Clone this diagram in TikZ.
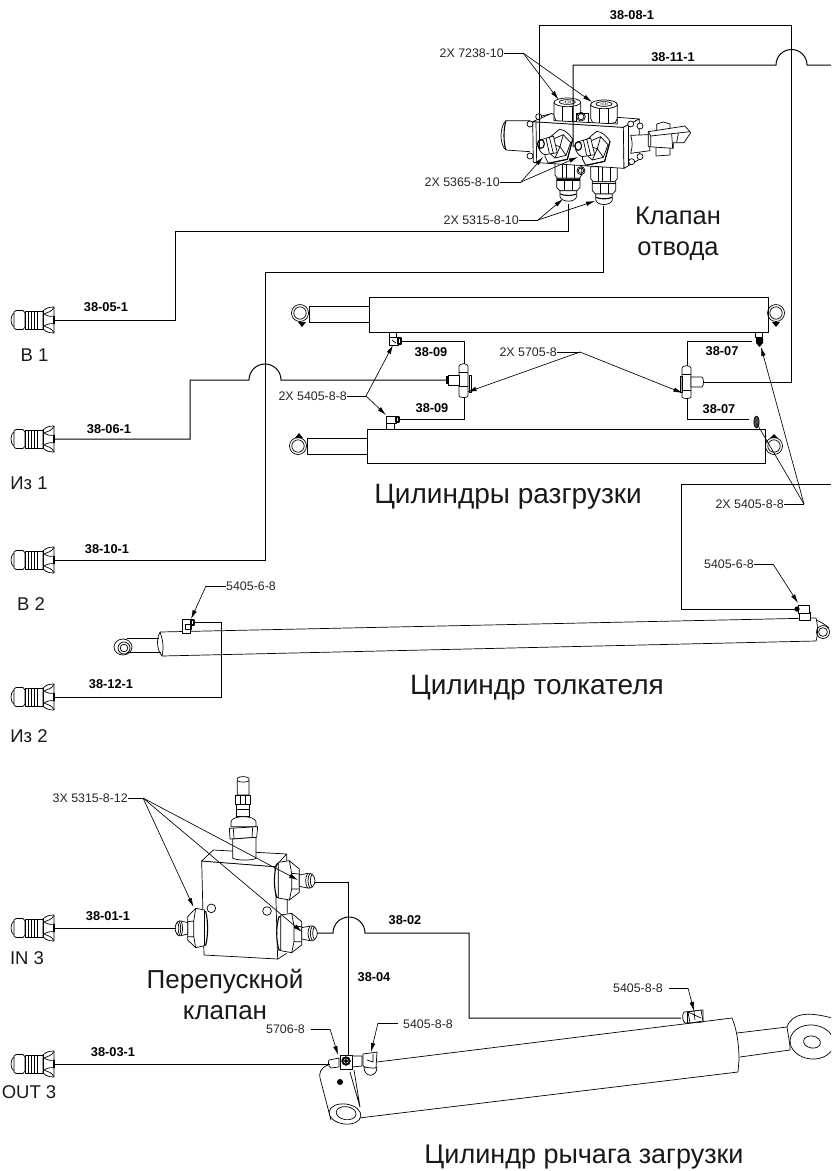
\documentclass[tikz,border=0pt]{standalone}
\usepackage{fontspec}
\setmainfont{Liberation Sans}
\usetikzlibrary{arrows.meta}
\tikzset{
  pipe/.style={line width=1pt,line join=miter},
  part/.style={line width=0.7pt,line join=round},
  thick part/.style={line width=1.1pt,line join=round},
  leader/.style={line width=0.65pt},
  tip/.style={line width=0.65pt,-{Latex[length=9pt,width=4.5pt]}},
  hoselabel/.style={font=\fontsize{12.8}{14}\selectfont\bfseries,inner sep=0pt},
  partlabel/.style={font=\fontsize{12.4}{14}\selectfont,inner sep=0pt,text=black!85},
  portlabel/.style={font=\fontsize{18.5}{20}\selectfont,inner sep=0pt,text=black!90},
  bigtext/.style={inner sep=0pt,align=center,text=black!90},
  zoomA/.style={shift={(480,0)},x=0.33333pt,y=-0.33333pt},
  zoomB/.style={shift={(130,760)},x=0.33333pt,y=-0.33333pt},
}
% quick coupler whose hose end is at #1
\newcommand{\coupler}[1]{%
 \begin{scope}[shift={(#1)}]
  \draw[part] (-40,-7) .. controls (-44,-5) and (-44,5) .. (-40,7);
  \draw[part] (-40,-8) -- (-38,-9.5) -- (-31,-9.5) -- (-29,-7) -- (-29,7) -- (-31,9.5) -- (-38,9.5) -- (-40,8) -- cycle;
  \draw[part] (-29,-9) rectangle (-11,9);
  \draw[part] (-26,-9) -- (-26,9) (-23,-9) -- (-23,9) (-20,-9) -- (-20,9) (-17,-9) -- (-17,9);
  \draw[part] (-11,-9) .. controls (-8,-12) and (-5,-13) .. (0,-13) -- (0,13) .. controls (-5,13) and (-8,12) .. (-11,9) -- cycle;
  \draw[part] (0,-13) .. controls (-2,-8) and (-6,-8) .. (-10,-6) .. controls (-7,-4) and (-3,-3) .. (0,-4);
  \draw[part] (0,13) .. controls (-2,8) and (-6,8) .. (-10,6) .. controls (-7,4) and (-3,3) .. (0,4);
  \draw[thick part] (0,-4) -- (0,4);
 \end{scope}}
% angled fitting on the valve front, offset #1,#2 from the left fitting (zoom units)
\newcommand{\angfit}[2]{%
 \begin{scope}[shift={(#1,#2)}]
  \filldraw[part,fill=white] (195,470) -- (200,420) -- (238,388) .. controls (255,388) and (270,405) .. (278,418) -- (262,478) -- (205,490) -- cycle;
  \filldraw[part,fill=white] (207,458) -- (213,420) -- (250,404) -- (272,428) -- (258,466) -- (225,474) -- cycle;
  \draw[part] (250,404) -- (240,440) -- (258,466) (240,440) -- (213,432) (240,440) -- (225,474);
  \draw[thick part] (278,418) -- (262,478) -- (205,490);
  \filldraw[part,fill=white] (172,432) .. controls (172,424) and (178,420) .. (184,419) -- (220,408) -- (232,458) -- (194,464) .. controls (184,462) and (174,446) .. (172,432) -- cycle;
  \draw[part] (198,414) -- (208,460) (208,411) -- (220,460);
  \draw[thick part] (183,432) ellipse[x radius=10,y radius=13];
 \end{scope}}
% downward fitting on valve (zoom units): centre x #1, top #2, w/ body
\newcommand{\downfit}[2]{%
 \begin{scope}[shift={(#1,#2)}]
  \filldraw[part,fill=white] (-40,0) -- (-40,35) -- (-33,45) -- (33,45) -- (40,35) -- (40,0) -- cycle;
  \draw[part] (-18,0) -- (-18,45) (18,0) -- (18,45) (-5,0) -- (-5,45);
  \filldraw[part,fill=white] (-35,45) -- (-35,72) -- (-26,82) -- (26,82) -- (35,72) -- (35,45) -- cycle;
  \draw[thick part] (-35,50) -- (35,50);
  \draw[part] (-12,50) -- (-12,82) (12,50) -- (12,82);
  \filldraw[part,fill=white] (-25,82) -- (-25,100) .. controls (-20,118) and (20,118) .. (25,100) -- (25,82) -- cycle;
  \draw[thick part] (-24,92) .. controls (-12,98) and (12,98) .. (24,92);
 \end{scope}}
% hex top fitting on valve (zoom units)
\newcommand{\topfit}[2]{%
 \begin{scope}[shift={(#1,#2)}]
  \filldraw[part,fill=white] (-40,0) -- (-40,42) -- (-34,55) -- (-14,58) -- (14,58) -- (34,55) -- (40,42) -- (40,0) -- cycle;
  \draw[part] (-14,5) -- (-14,58) (14,5) -- (14,58);
  \filldraw[part,fill=white] (0,0) ellipse[x radius=40,y radius=13];
  \draw[part] (0,-1) ellipse[x radius=24,y radius=7];
  \draw[part,densely dotted] (0,-1) ellipse[x radius=10,y radius=3];
 \end{scope}}
% side fitting on the bypass block, nose pointing right (zoom units) at #1,#2
\newcommand{\sidefit}[3]{%
 \begin{scope}[shift={(#1,#2)},xscale=#3]
  \filldraw[thick part,fill=white] (-113,-50) .. controls (-122,-20) and (-122,20) .. (-113,50) -- (-106,50) -- (-106,-50) -- cycle;
  \filldraw[part,fill=white] (-108,-55) -- (-75,-60) -- (-45,-35) -- (-45,35) -- (-75,58) -- (-108,52) -- cycle;
  \draw[part] (-75,-60) -- (-68,-22) -- (-45,-20) (-68,-22) -- (-68,25) -- (-75,58) (-68,25) -- (-45,25);
  \filldraw[part,fill=white] (-45,-17) -- (-20,-22) .. controls (-8,-26) and (2,-12) .. (2,0) .. controls (2,12) and (-8,26) .. (-20,22) -- (-45,17) -- cycle;
  \draw[part] (-20,-22) .. controls (-28,-10) and (-28,10) .. (-20,22);
  \draw[part] (-13,-22) .. controls (-21,-10) and (-21,10) .. (-13,22);
  \draw[part] (-6,-20) .. controls (-14,-10) and (-14,10) .. (-6,20);
 \end{scope}}
\begin{document}
\begin{tikzpicture}[x=1pt,y=-1pt]
\useasboundingbox (0,0) rectangle (831,1171);
\clip (0,0) rectangle (831,1171);

%=== ports (hose ends of the couplers)
\coordinate (b1) at (54,320);
\coordinate (iz1) at (54,439);
\coordinate (b2) at (54,560);
\coordinate (iz2) at (54,697);
\coordinate (in3) at (54,928);
\coordinate (out3) at (54,1064);
\foreach \c in {b1,iz1,b2,iz2,in3,out3} {\coupler{\c}}

%=== valve
\begin{scope}[zoomA]
  % left solenoid
  \draw[part] (150,362) -- (78,362) .. controls (58,380) and (58,435) .. (78,450) -- (150,455);
  \draw[thick part] (78,362) .. controls (70,385) and (70,430) .. (78,450);
  % top fittings
  \topfit{262}{307}
  \topfit{372}{313}
  \filldraw[part,fill=white] (290,340) -- (290,372) -- (325,372) -- (325,340) -- cycle;
  \draw[part] (303,350) circle[radius=13];
  \draw[part] (303,350) circle[radius=9];
  % bottom fittings
  \downfit{265}{490}
  \downfit{372}{500}
  \draw[part] (303,512) circle[radius=12];
  \draw[part] (303,512) circle[radius=8];
  % block
  \filldraw[part,fill=white] (158,365) -- (430,382) -- (432,505) -- (160,487) -- cycle;
  \filldraw[part,fill=white] (158,365) -- (215,340) -- (222,345) -- (222,362) -- (412,372) -- (412,352) -- (478,357) -- (430,382) -- cycle;
  \filldraw[part,fill=white] (430,382) -- (478,357) -- (478,478) -- (432,505) -- cycle;
  \draw[part] (168,366) -- (170,488) (176,350) -- (210,342);
  \draw[part] (445,375) -- (445,497);
  % bolts
  \foreach \p/\r in {150/372,150/468,176/350,480/378,480/470,455/485,452/372} {\filldraw[part,fill=white] (\p,\r) circle[radius=9];}
  % lever stem
  \filldraw[part,fill=white] (452,406) -- (505,404) -- (510,452) -- (452,460) .. controls (458,440) and (458,425) .. (452,406) -- cycle;
  \filldraw[part,fill=white] (528,440) -- (528,468) -- (570,465) -- (570,440) -- cycle;
  \filldraw[part,fill=white] (530,372) -- (530,392) -- (570,392) -- (570,372) -- (550,366) -- cycle;
  \filldraw[part,fill=white] (505,395) -- (615,378) -- (632,398) -- (612,428) -- (580,428) -- (580,445) -- (505,440) -- cycle;
  \draw[part] (505,395) -- (512,408) -- (630,395) (512,408) -- (512,440) (575,402) -- (578,445) (595,400) -- (590,428);
  % front fittings
  \angfit{0}{0}
  \angfit{112}{6}
\end{scope}

%=== named ports on the valve
\coordinate (vA) at (539,150);
\coordinate (vB) at (573,147);
\coordinate (vC) at (568,204);
\coordinate (vD) at (603.5,206);

%=== lift cylinders
\filldraw[part,fill=white] (369,297) rectangle (768,332);
\draw[part] (309,306) rectangle (369,322);
\draw[part] (300,313) circle[radius=8.5] (300,313) circle[radius=6.2];
\draw[part] (776,313) circle[radius=8.5] (776,313) circle[radius=6.2];
\fill (298,322) -- (306,322) -- (302,327) -- cycle;
\fill (772,322) -- (780,322) -- (776,327) -- cycle;
\filldraw[part,fill=white] (367,429) rectangle (765,463);
\draw[part] (307,438) rectangle (367,454);
\draw[part] (298,446) circle[radius=8.5] (298,446) circle[radius=6.2];
\draw[part] (774,446) circle[radius=8.5] (774,446) circle[radius=6.2];
\fill (295,438) -- (303,438) -- (299,433) -- cycle;
\fill (770,438) -- (778,438) -- (774,434) -- cycle;
% fittings on the lift cylinders
\draw[part] (389,332) rectangle (396,337);
\filldraw[part,fill=white] (389,337) rectangle (398,345);
\draw[thick part] (398,338) rectangle (401,344);
\draw[part] (392,340) -- (396,343);
\draw[part] (386,417) rectangle (394,429);
\filldraw[part,fill=white] (386,416) rectangle (396,423);
\draw[thick part] (396,417) rectangle (399,422);
\draw[part] (755,332) rectangle (762,337);
\fill (756,338) -- (763,338) -- (763,343) -- (759.5,347) -- (756,343) -- cycle;
\filldraw[part,fill=black!70] (756.5,422) ellipse[x radius=2.6pt,y radius=6pt];
% T fittings
\filldraw[part,fill=white] (459,366) .. controls (459,363) and (468,363) .. (468,366) -- (468,396) .. controls (468,398) and (459,398) .. (459,396) -- cycle;
\draw[part] (459,372) -- (468,372) (459,386) -- (468,386) (469,375) rectangle (471,392);
\filldraw[part,fill=white] (448,375) -- (459,375) -- (459,385) -- (448,385) -- cycle;
\draw[thick part] (447,376) -- (447,384);
\filldraw[part,fill=white] (682,368) .. controls (682,365) and (691,365) .. (691,368) -- (691,397) .. controls (691,399) and (682,399) .. (682,397) -- cycle;
\draw[part] (682,374) -- (691,374) (682,390) -- (691,390) (680,376) rectangle (682,392);
\filldraw[part,fill=white] (691,377) -- (702,377) .. controls (704,379) and (704,385) .. (702,387) -- (691,387) -- cycle;
\coordinate (t1L) at (447,380);
\coordinate (t1T) at (464,364);
\coordinate (t1B) at (464,397);
\coordinate (t2R) at (703,382);
\coordinate (t2T) at (687,366);
\coordinate (t2B) at (687,398);
\coordinate (f1) at (401,341);
\coordinate (f2) at (399,419);
\coordinate (f3) at (752,341);
\coordinate (f4) at (749,419);

%=== pusher cylinder
\draw[part] (127,638) -- (159,638) (127,652) -- (161,652);
\draw[part] (123,647) ellipse[x radius=9pt,y radius=8pt];
\draw[part] (124,648) circle[radius=6] (124,648) circle[radius=3.8];
\draw[part] (160,632) .. controls (156,640) and (157,650) .. (162,656) .. controls (164,648) and (163,640) .. (160,632);
\draw[part] (160,632) -- (816,618) .. controls (818,625) and (818,635) .. (816,641) -- (162,656);
\draw[part] (823,632) circle[radius=6.5] (823,632) circle[radius=4.4];
\draw[part] (816,620) .. controls (821,622) and (826,625) .. (829,628);
\filldraw[part,fill=white] (182,619) rectangle (190,633);
\draw[part] (185,624) rectangle (191,629);
\draw[thick part] (191,620) rectangle (194,625);
\filldraw[part,fill=white] (799,612) rectangle (810,620);
\filldraw[part,fill=white] (798,605) rectangle (809,613);
\fill (797,609) circle[radius=2.6];
\coordinate (p1) at (194,622);
\coordinate (p2) at (797,609);

%=== bypass block
\begin{scope}[zoomB]
  % top cartridge
  \filldraw[part,fill=white] (322,55) -- (322,105) -- (357,105) -- (357,55) .. controls (350,48) and (328,48) .. (322,55) -- cycle;
  \draw[part] (322,62) .. controls (330,68) and (350,68) .. (357,62);
  \filldraw[part,fill=white] (317,107) -- (360,107) -- (360,133) -- (317,133) -- cycle;
  \draw[part] (330,107) -- (330,133) (347,107) -- (347,133);
  \filldraw[part,fill=white] (320,133) -- (358,133) -- (358,170) -- (320,170) -- cycle;
  \draw[thick part] (320,148) -- (358,148);
  \filldraw[part,fill=white] (303,185) .. controls (305,165) and (375,165) .. (378,185) -- (378,200) -- (303,200) -- cycle;
  \filldraw[part,fill=white] (298,205) -- (383,200) -- (380,232) -- (300,237) -- cycle;
  \draw[part] (310,205) -- (312,235) (368,202) -- (366,233);
  % block
  \filldraw[part,fill=white] (215,303) -- (435,320) -- (443,597) -- (222,585) -- cycle;
  \filldraw[part,fill=white] (215,303) -- (250,270) -- (470,282) -- (435,320) -- cycle;
  \draw[part] (470,282) -- (472,460) (443,597) -- (470,580);
  \filldraw[part,fill=white] (308,237) -- (308,295) .. controls (325,302) and (365,302) .. (378,295) -- (378,232) -- cycle;
  \draw[part] (244,445) circle[radius=13];
  \draw[part] (411,453) circle[radius=13];
  % fittings
  \sidefit{553}{362}{1}
  \sidefit{560}{520}{1}
  \sidefit{137}{505}{-0.8}
\end{scope}

%=== loader cylinder
\draw[part] (732,1018) .. controls (737,1030) and (739,1045) .. (739,1060) -- (738,1072) -- (359,1118);
\draw[part] (377,1062) -- (732,1018);
\draw[part] (737,1033) -- (787,1027) (740,1057) -- (790,1050);
\draw[part] (787,1027) .. controls (792,1012) and (810,1012) .. (832,1018);
\draw[part] (787,1027) .. controls (788,1035) and (790,1042) .. (790,1050);
\filldraw[part,fill=white,rotate around={-6:(812,1042)}] (812,1042) ellipse[x radius=22pt,y radius=17pt];
\draw[part,rotate around={-10:(812,1042)}] (812,1042) ellipse[x radius=8.5pt,y radius=6pt];
% bracket
\draw[part] (328,1065) .. controls (320,1068) and (319,1074) .. (320,1078) -- (331,1120);
\draw[part] (350,1072) -- (360,1107) (354,1070) -- (360,1107);
\filldraw[part,fill=white,rotate around={-8:(345,1114)}] (345,1114) ellipse[x radius=16pt,y radius=10pt];
\draw[part,rotate around={-8:(345,1114)}] (346,1113) ellipse[x radius=10pt,y radius=6.5pt];
\fill (340,1082) circle[radius=3];
% fittings
\filldraw[part,fill=white] (329,1060) -- (339,1058) -- (339,1067) -- (331,1068) .. controls (328,1066) and (328,1062) .. (329,1060) -- cycle;
\filldraw[part,fill=white] (352,1056) -- (362,1056) -- (362,1066) -- (352,1067) -- cycle;
\filldraw[part,fill=white] (364,1067) .. controls (364,1078) and (377,1078) .. (377,1067) -- cycle;
\filldraw[part,fill=white] (363,1054) -- (377,1052) -- (376,1068) .. controls (372,1068) and (366,1068) .. (363,1066) -- cycle;
\draw[part] (367,1060) -- (373,1062) (373,1054) -- (373,1062);
\filldraw[part,fill=white] (340,1055) rectangle (352,1069);
\filldraw[fill=black] (346,1061) circle[radius=4.4];
\draw[white,line width=.4pt] (346,1061) circle[radius=2.2];
\filldraw[part,fill=white] (684,1012) -- (703,1010) -- (703,1022) -- (685,1023) .. controls (682,1020) and (682,1015) .. (684,1012) -- cycle;
\draw[part] (687,1012) -- (687,1023) (694,1011) -- (694,1022);
\filldraw[part,fill=white] (688,1012) -- (701,1010) -- (703,1021) -- (690,1023) -- cycle;
\draw[part] (694,1011) -- (695,1020) (688,1012) -- (701,1018);

\coordinate (bp1) at (315,882);
\coordinate (bp2) at (317,933);
\coordinate (bp3) at (176,928);
\coordinate (lc1) at (330,1064);
\coordinate (lc2) at (348,1056);
\coordinate (lc3) at (681,1018);

%=== hoses
\draw[pipe] (b1) -| (175,231) -| (vC);
\draw[pipe] (iz1) -| (190,380) -- (249,380) arc[start angle=180,end angle=0,radius=16pt] -- (t1L);
\draw[pipe] (b2) -| (265,272) -| (vD);
\draw[pipe] (iz2) -| (221,622) -- (p1);
\draw[pipe] (vA) |- (791,25) |- (t2R);
\draw[pipe] (vB) |- (776,65) arc[start angle=180,end angle=0,radius=15.5pt] -- (831,65);
\draw[pipe] (831,484) -| (681,609) -- (p2);
\draw[pipe] (f1) -| (t1T);
\draw[pipe] (f2) -| (t1B);
\draw[pipe] (f3) -| (t2T);
\draw[pipe] (f4) -| (t2B);
\draw[pipe] (in3) -- (bp3);
\draw[pipe] (out3) -- (lc1);
\draw[pipe] (bp1) -| (lc2);
\draw[pipe] (bp2) -- (333,933) arc[start angle=180,end angle=0,radius=16pt] -- (469,933) |- (lc3);

%=== hose labels
\node[hoselabel] (h05) at (106,307) {38-05-1};
\node[hoselabel] (h06) at (109,429) {38-06-1};
\node[hoselabel] (h10) at (107,549) {38-10-1};
\node[hoselabel] (h12) at (111,684) {38-12-1};
\node[hoselabel] (h01) at (108,916) {38-01-1};
\node[hoselabel] (h03) at (113,1052) {38-03-1};
\node[hoselabel] (h08) at (632,15) {38-08-1};
\node[hoselabel] (h11) at (673,57) {38-11-1};
\node[hoselabel] (h09a) at (431,352) {38-09};
\node[hoselabel] (h09b) at (432,408) {38-09};
\node[hoselabel] (h07a) at (722,351) {38-07};
\node[hoselabel] (h07b) at (719,409) {38-07};
\node[hoselabel] (h02) at (405,920) {38-02};
\node[hoselabel] (h04) at (374,977) {38-04};

%=== port labels
\node[portlabel] (lb1) at (34.5,355) {В 1};
\node[portlabel] (liz1) at (29,483) {Из 1};
\node[portlabel] (lb2) at (31,604) {В 2};
\node[portlabel] (liz2) at (29,736) {Из 2};
\node[portlabel] (lin3) at (27,958) {IN 3};
\node[portlabel] (lout3) at (29,1092) {OUT 3};

%=== big labels
\node[bigtext,font=\fontsize{25.5}{30}\selectfont] (t1) at (678,234) {Клапан\\[1pt]отвода};
\node[bigtext,font=\fontsize{28}{32}\selectfont] (t2) at (508,497) {Цилиндры разгрузки};
\node[bigtext,font=\fontsize{28}{32}\selectfont] (t3) at (537,688) {Цилиндр толкателя};
\node[bigtext,font=\fontsize{26}{30}\selectfont] (t4) at (225,994) {Перепускной\\[1pt]клапан};
\node[bigtext,font=\fontsize{27}{31}\selectfont] (t5) at (584,1157) {Цилиндр рычага загрузки};

%=== part callouts
\node[partlabel,anchor=east] (c1) at (504,53) {2X 7238-10};
\coordinate (c1j) at (523,53);
\draw[leader] (c1) -- (c1j);
\coordinate (c1a) at (558.5,99.5);
\coordinate (c1b) at (592,102);
\draw[tip] (c1j) -- (c1a);
\draw[tip] (c1j) -- (c1b);

\node[partlabel,anchor=east] (c2) at (500,182) {2X 5365-8-10};
\coordinate (c2j) at (521,182);
\draw[leader] (c2) -- (c2j);
\coordinate (c2a) at (543,157);
\coordinate (c2b) at (578,157);
\draw[tip] (c2j) -- (c2a);
\draw[tip] (c2j) -- (c2b);

\node[partlabel,anchor=east] (c3) at (519,220) {2X 5315-8-10};
\coordinate (c3j) at (538,220);
\draw[leader] (c3) -- (c3j);
\coordinate (c3a) at (563,199);
\coordinate (c3b) at (595,201);
\draw[tip] (c3j) -- (c3a);
\draw[tip] (c3j) -- (c3b);

\node[partlabel,anchor=east] (c4) at (347,396) {2X 5405-8-8};
\coordinate (c4j) at (366,396);
\draw[leader] (c4) -- (c4j);
\coordinate (c4a) at (393,345);
\coordinate (c4b) at (386,415);
\draw[tip] (c4j) -- (c4a);
\draw[tip] (c4j) -- (c4b);

\node[partlabel,anchor=east] (c5) at (557,352) {2X 5705-8};
\coordinate (c5j) at (580,352);
\draw[leader] (c5) -- (c5j);
\coordinate (c5a) at (467.5,392);
\coordinate (c5b) at (682.5,393);
\draw[tip] (c5j) -- (c5a);
\draw[tip] (c5j) -- (c5b);

\node[partlabel,anchor=east] (c6) at (784,504) {2X 5405-8-8};
\coordinate (c6j) at (804,504);
\draw[leader] (c6) -- (c6j);
\coordinate (c6a) at (761,347);
\coordinate (c6b) at (757,424);
\draw[tip] (c6j) -- (c6a);
\draw[leader] (c6j) -- (c6b);

\node[partlabel,anchor=east] (c7) at (754,564) {5405-6-8};
\coordinate (c7j) at (773,564);
\coordinate (c7a) at (798,603);
\draw[leader] (c7) -- (c7j);
\draw[tip] (c7j) -- (c7a);

\node[partlabel,anchor=west] (c8) at (226,586) {5405-6-8};
\coordinate (c8j) at (206,586);
\coordinate (c8a) at (191,619);
\draw[leader] (c8) -- (c8j);
\draw[tip] (c8j) -- (c8a);

\node[partlabel,anchor=east] (c9) at (128,798) {3X 5315-8-12};
\coordinate (c9j) at (143,798);
\coordinate (c9a) at (193.5,907);
\coordinate (c9b) at (298,880);
\coordinate (c9c) at (302,932);
\draw[leader] (c9) -- (c9j);
\draw[tip] (c9j) -- (c9a);
\draw[tip] (c9j) -- (c9b);
\draw[tip] (c9j) -- (c9c);

\node[partlabel,anchor=east] (c10) at (305,1029) {5706-8};
\coordinate (c10i) at (311,1029);
\coordinate (c10j) at (330,1029);
\coordinate (c10a) at (338,1055);
\draw[leader] (c10i) -- (c10j);
\draw[tip] (c10j) -- (c10a);

\node[partlabel,anchor=west] (c11) at (403,1024) {5405-8-8};
\coordinate (c11i) at (398,1023);
\coordinate (c11j) at (378,1023);
\coordinate (c11a) at (371,1052);
\draw[leader] (c11i) -- (c11j);
\draw[tip] (c11j) -- (c11a);

\node[partlabel,anchor=east] (c12) at (663,988) {5405-8-8};
\coordinate (c12i) at (669,988);
\coordinate (c12j) at (688,988);
\coordinate (c12a) at (694,1011);
\draw[leader] (c12i) -- (c12j);
\draw[tip] (c12j) -- (c12a);
\end{tikzpicture}
\end{document}
